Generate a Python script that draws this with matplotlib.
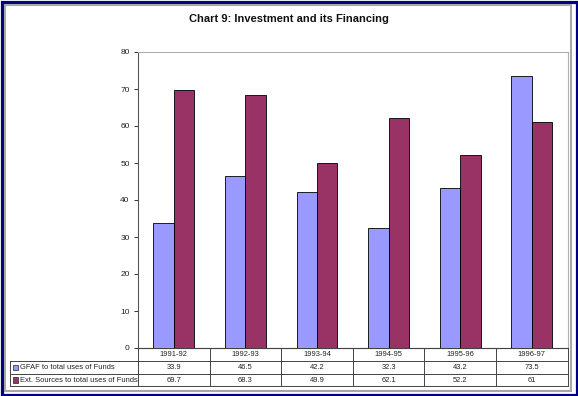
import matplotlib
matplotlib.use("Agg")
import matplotlib.pyplot as plt
from matplotlib.patches import Rectangle

plt.rcParams['font.family'] = ['Liberation Sans', 'DejaVu Sans']

title = "Chart 9: Investment and its Financing"
categories = ["1991-92", "1992-93", "1993-94", "1994-95", "1995-96", "1996-97"]
series_names = ["GFAF to total uses of Funds", "Ext. Sources to total uses of Funds"]
gfaf = [33.9, 46.5, 42.2, 32.3, 43.2, 73.5]
ext = [69.7, 68.3, 49.9, 62.1, 52.2, 61]
gfaf_labels = ["33.9", "46.5", "42.2", "32.3", "43.2", "73.5"]
ext_labels = ["69.7", "68.3", "49.9", "62.1", "52.2", "61"]
yticks = [0, 10, 20, 30, 40, 50, 60, 70, 80]

colors = ["#9999FF", "#993366"]

W, H = 578, 396
fig = plt.figure(figsize=(W / 100, H / 100), dpi=100)
fig.patch.set_facecolor("white")

def fx(px):
    return px / W

def fy(py):
    return 1 - py / H

# borders
fig.patches.append(Rectangle((fx(1.5), fy(394.5)), fx(575), (393) / H, transform=fig.transFigure,
                             fill=False, edgecolor="#000080", linewidth=2.3, zorder=0))
fig.patches.append(Rectangle((fx(5), fy(390.5)), fx(566), (385.5) / H, transform=fig.transFigure,
                             fill=False, edgecolor="#a8a8a8", linewidth=1.5, zorder=0))

# plot area
L, R, T, B = 138, 567.5, 52, 348
ax = fig.add_axes([fx(L), fy(B), (R - L) / W, (B - T) / H])
n = len(categories)
ax.set_xlim(0, n)
ax.set_ylim(0, 80)
w = 1 / 3.5
xs = [i + 0.5 for i in range(n)]
ax.bar([x - w / 2 for x in xs], gfaf, width=w, color=colors[0], edgecolor="#000000", linewidth=0.6, zorder=3)
ax.bar([x + w / 2 for x in xs], ext, width=w, color=colors[1], edgecolor="#000000", linewidth=0.6, zorder=3)
ax.set_yticks(yticks)
ax.set_yticklabels([str(t) for t in yticks], fontsize=6, color="#222222")
ax.set_xticks([])
ax.tick_params(axis="y", length=3, width=0.7, color="#333333", pad=3)
for s in ["top", "right"]:
    ax.spines[s].set_color("#b0b0b0")
    ax.spines[s].set_linewidth(0.8)
ax.spines["left"].set_color("#555555")
ax.spines["left"].set_linewidth(0.8)
ax.spines["bottom"].set_color("#000000")
ax.spines["bottom"].set_linewidth(0.8)

fig.text(0.5, fy(19), title, ha="center", va="center", fontsize=8, fontweight="bold", color="#111111")

# data table
catw = (R - L) / n
TL = 10
rows_y = [348, 361, 374, 386]
tab = fig.add_axes([fx(TL), fy(rows_y[-1]), (R - TL) / W, (rows_y[-1] - rows_y[0]) / H])
x0 = (TL - L) / catw
tab.set_xlim(x0, n)
tab.set_ylim(rows_y[-1], rows_y[0])
tab.axis("off")
lc = "#444444"
lw = 0.7
tab.plot([0, n], [rows_y[0], rows_y[0]], color=lc, lw=lw, clip_on=False)
for yy in rows_y[1:]:
    tab.plot([x0, n], [yy, yy], color=lc, lw=lw, clip_on=False)
tab.plot([x0, x0], [rows_y[1], rows_y[-1]], color=lc, lw=lw, clip_on=False)
for i in range(n + 1):
    tab.plot([i, i], [rows_y[0], rows_y[-1]], color=lc, lw=lw, clip_on=False)

fs = 5.4
for i, c in enumerate(categories):
    tab.text(i + 0.5, (rows_y[0] + rows_y[1]) / 2, c, ha="center", va="center", fontsize=fs, color="#222222")
    tab.text(i + 0.5, (rows_y[1] + rows_y[2]) / 2, gfaf_labels[i], ha="center", va="center", fontsize=fs, color="#222222")
    tab.text(i + 0.5, (rows_y[2] + rows_y[3]) / 2, ext_labels[i], ha="center", va="center", fontsize=fs, color="#222222")

key = 5.5 / catw
for r, (name, col) in enumerate(zip(series_names, colors)):
    yc = (rows_y[r + 1] + rows_y[r + 2]) / 2
    tab.add_patch(Rectangle((x0 + 3 / catw, yc - 2.8), key, 5.6, facecolor=col, edgecolor="#222222", lw=0.5, clip_on=False))
    tab.text(x0 + 10.5 / catw, yc, name, ha="left", va="center", fontsize=fs, color="#222222")

fig.savefig("out.png", dpi=100)
